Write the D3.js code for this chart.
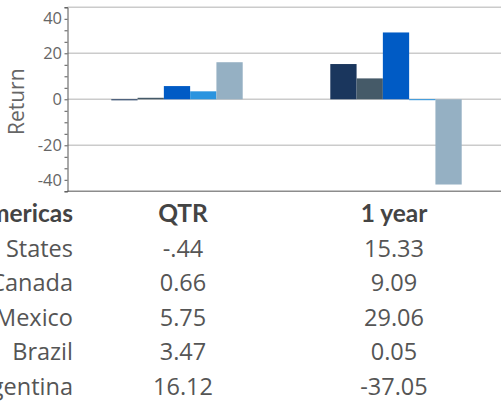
<!DOCTYPE html>
<html>
<head>
<meta charset="utf-8">
<script src="https://cdn.jsdelivr.net/npm/d3@7"></script>
<style>
  html, body { margin: 0; padding: 0; background: #fff; overflow: hidden; }
  svg { display: block; }
</style>
</head>
<body>
<svg id="chart" width="501" height="402"></svg>
<script>
// Returns by country for two periods
const countries = ["United States", "Canada", "Mexico", "Brazil", "Argentina"];
const periods = ["QTR", "1 year"];
const qtrLabels = ["-.44", "0.66", "5.75", "3.47", "16.12"];
const yearLabels = ["15.33", "9.09", "29.06", "0.05", "-37.05"];
const qtrReturns = qtrLabels.map(Number);
const yearReturns = yearLabels.map(Number);
const colors = ["#1a365d", "#455a68", "#005bc5", "#2a94df", "#95b0c3"];
const yTicks = [-40, -20, 0, 20, 40];
const regionHeader = "Americas";
const yTitle = "Return";

const seriesByPeriod = [qtrReturns, yearReturns];
const labelsByPeriod = [qtrLabels, yearLabels];

const svg = d3.select("#chart");

const plot = { left: 67.5, right: 505.5, top: 7.3, bottom: 191.3 };

const y = d3.scaleLinear().domain([-40, 40]).range([plot.bottom, plot.top]);
const x0 = d3.scaleBand().domain(periods).range([plot.left, plot.right])
  .paddingInner(0.4).paddingOuter(0.2);
const x1 = d3.scaleBand().domain(countries).range([0, x0.bandwidth()]);
const color = d3.scaleOrdinal().domain(countries).range(colors);

// horizontal grid lines
svg.append("g")
  .selectAll("line")
  .data(yTicks.filter(t => t !== -40))
  .join("line")
  .attr("x1", plot.left).attr("x2", plot.right)
  .attr("y1", d => y(d)).attr("y2", d => y(d))
  .attr("stroke", "#cbcbcb")
  .attr("stroke-width", 1.5);

// bars
const groups = svg.append("g")
  .selectAll("g")
  .data(periods.map((p, i) => ({ period: p, values: seriesByPeriod[i] })))
  .join("g")
  .attr("transform", d => `translate(${x0(d.period)},0)`);

groups.selectAll("rect")
  .data(d => d.values.map((v, i) => ({ country: countries[i], value: v })))
  .join("rect")
  .attr("x", d => x1(d.country))
  .attr("width", x1.bandwidth())
  .attr("y", d => Math.min(y(d.value), y(0)))
  .attr("height", d => Math.max(1, Math.abs(y(d.value) - y(0))))
  .attr("fill", d => color(d.country));

// bottom axis line
svg.append("line")
  .attr("x1", plot.left).attr("x2", plot.right)
  .attr("y1", plot.bottom).attr("y2", plot.bottom)
  .attr("stroke", "#8c8c8c")
  .attr("stroke-width", 1.5);

// y axis with major and minor ticks
const yAxisG = svg.append("g").attr("transform", `translate(${plot.left},0)`);
yAxisG.call(d3.axisLeft(y).tickValues(d3.range(-40, 41, 5)).tickSize(3).tickFormat(""))
  .call(g => g.select(".domain").attr("stroke", "#555").attr("stroke-width", 1))
  .call(g => g.selectAll(".tick line").attr("stroke", "#555"));

yAxisG.selectAll(".tick text").remove();

const labelG = svg.append("g");
labelG.selectAll("text")
  .data(yTicks)
  .join("text")
  .attr("x", 62)
  .attr("y", d => Math.max(y(40) + 11, Math.min(y(-40) - 11, y(d))))
  .attr("dy", "0.35em")
  .attr("text-anchor", "end")
  .attr("font-family", "'Open Sans', sans-serif")
  .attr("font-size", 16.5)
  .attr("fill", "#666")
  .text(d => d);

// y title
svg.append("text")
  .attr("transform", "translate(24,101.7) rotate(-90)")
  .attr("text-anchor", "middle")
  .attr("font-family", "'Open Sans', sans-serif")
  .attr("font-size", 21)
  .attr("fill", "#666")
  .text(yTitle);

// data table below the chart
const table = svg.append("g")
  .attr("font-family", "'Open Sans', sans-serif")
  .attr("font-size", 23.5);

const colX = { label: 73, cols: [183, 394] };
const rowY = i => 222 + 34.6 * i;

table.append("text")
  .attr("x", colX.label).attr("y", rowY(0))
  .attr("text-anchor", "end")
  .attr("font-family", "Lato, sans-serif")
  .attr("font-size", 24.5)
  .attr("font-weight", "bold")
  .attr("fill", "#444")
  .text(regionHeader);

table.selectAll("text.head")
  .data(periods)
  .join("text")
  .attr("class", "head")
  .attr("x", (d, i) => colX.cols[i])
  .attr("y", rowY(0))
  .attr("text-anchor", "middle")
  .attr("font-family", "Lato, sans-serif")
  .attr("font-size", 24.5)
  .attr("font-weight", "bold")
  .attr("fill", "#444")
  .text(d => d);

table.selectAll("text.country")
  .data(countries)
  .join("text")
  .attr("class", "country")
  .attr("x", colX.label)
  .attr("y", (d, i) => rowY(i + 1))
  .attr("text-anchor", "end")
  .attr("fill", "#555")
  .text(d => d);

periods.forEach((p, j) => {
  table.selectAll(`text.val${j}`)
    .data(labelsByPeriod[j])
    .join("text")
    .attr("class", `val${j}`)
    .attr("x", colX.cols[j])
    .attr("y", (d, i) => rowY(i + 1))
    .attr("text-anchor", "middle")
    .attr("fill", "#555")
    .text(d => d);
});
</script>
</body>
</html>
